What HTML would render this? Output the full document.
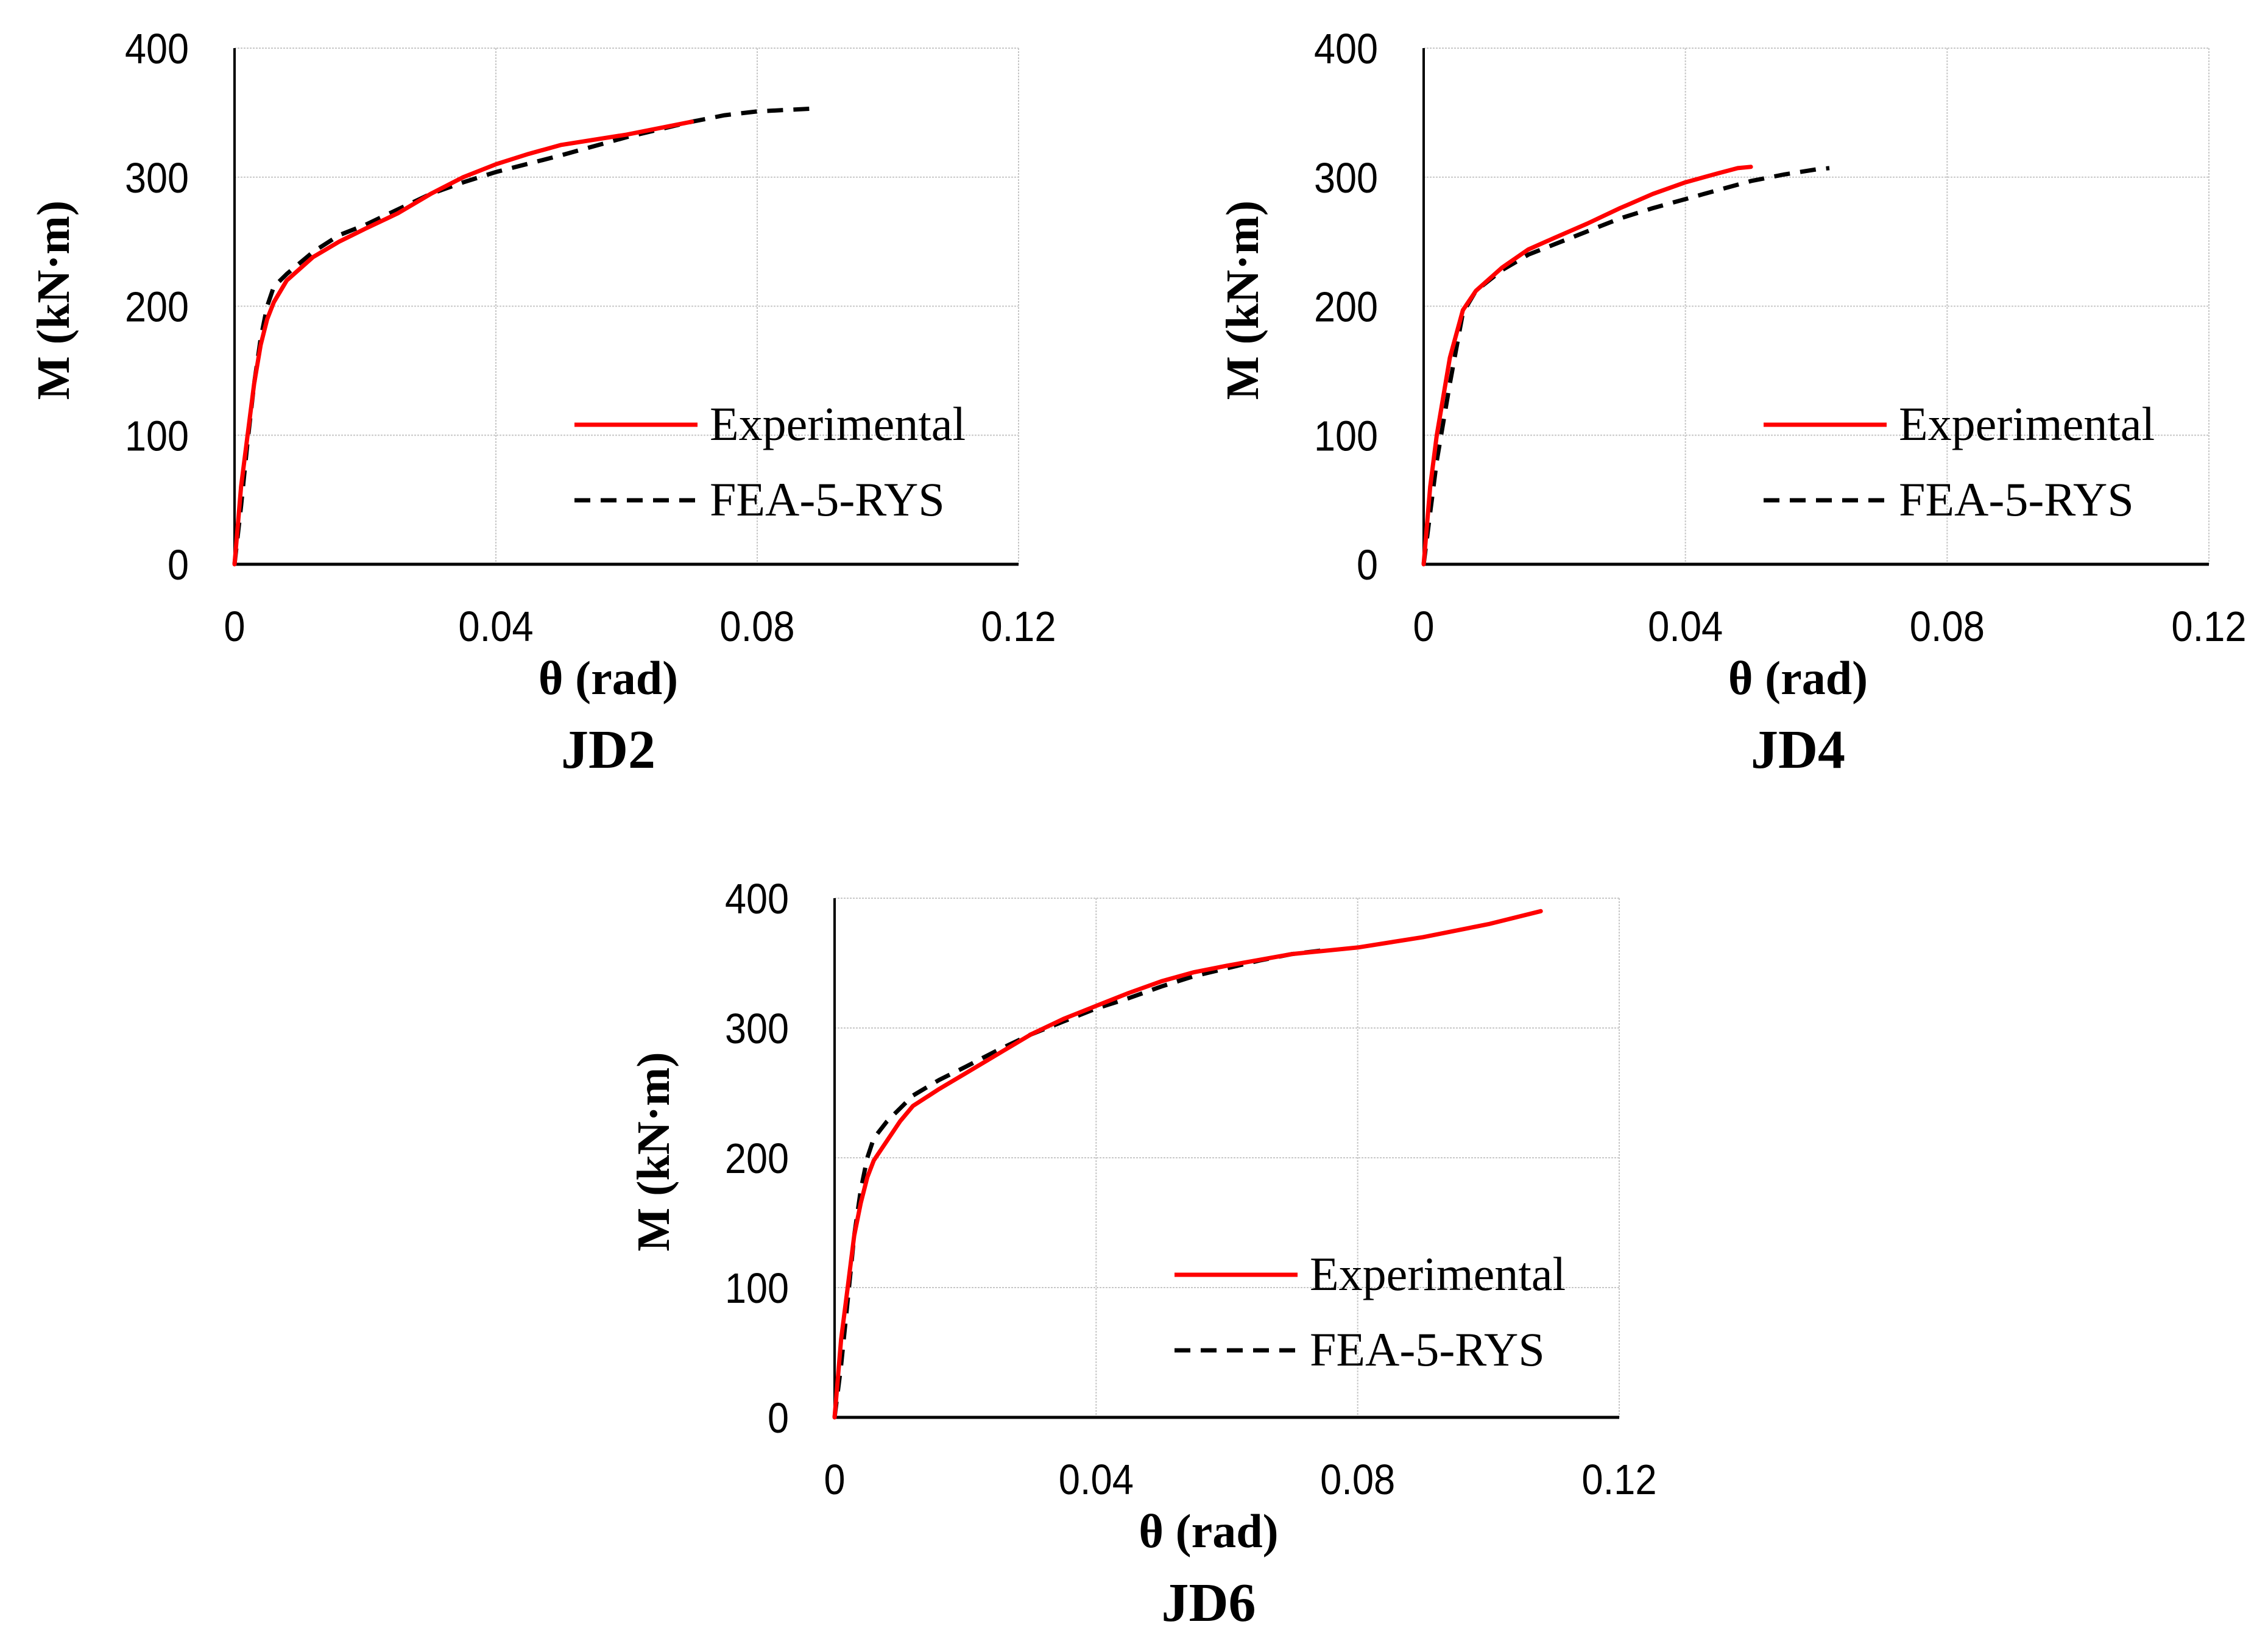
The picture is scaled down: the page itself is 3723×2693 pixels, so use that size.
<!DOCTYPE html>
<html><head><meta charset="utf-8">
<style>
html,body{margin:0;padding:0;background:#fff;}
svg{display:block;}
.tick{font-family:"Liberation Sans Narrow","Liberation Sans",sans-serif;font-size:70px;fill:#000;}
.ttl{font-family:"Liberation Serif",serif;font-weight:bold;fill:#000;}
.leg{font-family:"Liberation Serif",serif;font-size:78px;fill:#000;}
</style></head>
<body>
<svg id="fig" width="3723" height="2693" viewBox="0 0 3723 2693" xmlns="http://www.w3.org/2000/svg"></svg>
<script>
const xTicks=[0,0.04,0.08,0.12];
const xTickLabels=["0","0.04","0.08","0.12"];
const yTicks=[0,100,200,300,400];
const yTickLabels=["0","100","200","300","400"];
const panelNames=["JD2","JD4","JD6"];
const jd2ExpTheta=[0,0.001,0.002,0.003,0.004,0.005,0.006,0.008,0.012,0.016,0.02,0.025,0.03,0.035,0.04,0.045,0.05,0.06,0.07];
const jd2ExpM=[0,60,100,140,170,190,203,220,238,250,260,272,287,300,310,318,325,333,343];
const jd2FeaTheta=[0,0.001,0.002,0.003,0.004,0.005,0.006,0.008,0.012,0.016,0.02,0.025,0.03,0.035,0.04,0.05,0.06,0.07,0.075,0.08,0.088];
const jd2FeaM=[0,45,95,140,175,200,215,225,242,255,263,275,287,296,304,317,331,343,348,351,353];
const jd4ExpTheta=[0,0.001,0.002,0.004,0.006,0.008,0.012,0.016,0.02,0.025,0.03,0.035,0.04,0.045,0.048,0.05];
const jd4ExpM=[0,60,100,160,197,212,230,244,253,264,276,287,296,303,307,308];
const jd4FeaTheta=[0,0.001,0.002,0.004,0.006,0.008,0.012,0.016,0.02,0.025,0.03,0.035,0.04,0.045,0.05,0.055,0.06,0.062];
const jd4FeaM=[0,40,80,140,195,212,228,240,248,258,268,276,283,290,297,302,306,307];
const jd6ExpTheta=[0,0.001,0.002,0.003,0.004,0.005,0.006,0.008,0.01,0.012,0.016,0.02,0.025,0.03,0.035,0.04,0.045,0.05,0.055,0.06,0.07,0.08,0.09,0.1,0.108];
const jd6ExpM=[0,60,100,140,165,185,198,213,228,240,253,265,280,295,307,317,327,336,343,348,357,362,370,380,390];
const jd6FeaTheta=[0,0.001,0.002,0.003,0.004,0.005,0.006,0.008,0.012,0.016,0.02,0.025,0.03,0.035,0.04,0.045,0.05,0.055,0.06,0.065,0.07,0.075];
const jd6FeaM=[0,40,90,140,175,200,215,228,248,260,270,283,295,305,315,323,332,340,346,352,357,360];

const NS="http://www.w3.org/2000/svg";
const svg=document.getElementById('fig');
function mk(tag,attrs,parent){const e=document.createElementNS(NS,tag);for(const k in attrs)e.setAttribute(k,attrs[k]);(parent||svg).appendChild(e);return e;}
function narrowLen(s){let w=0;for(const c of s)w+=(c==='.'?0.26:0.5)*70;return w;}

const panels=[
 {name:panelNames[0],L:385,R:1672,T:79,B:926,exp:[jd2ExpTheta,jd2ExpM],fea:[jd2FeaTheta,jd2FeaM]},
 {name:panelNames[1],L:2337,R:3626,T:79,B:926,exp:[jd4ExpTheta,jd4ExpM],fea:[jd4FeaTheta,jd4FeaM]},
 {name:panelNames[2],L:1370,R:2658,T:1474,B:2326,exp:[jd6ExpTheta,jd6ExpM],fea:[jd6FeaTheta,jd6FeaM]}
];

panels.forEach(p=>{
  const g=mk('g',{});
  
  
  const sx=v=>p.L+(v-0)/(0.12)*(p.R-p.L);
  const sy=v=>p.B-(v/400)*(p.B-p.T);
  yTicks.forEach((t,i)=>{
    if(t>0){const gl=mk('line',{x1:p.L,x2:p.R,y1:sy(t),y2:sy(t),stroke:'#c8c8c8','stroke-width':2,'stroke-dasharray':'3 2'},g);
    
    }
    const tx=mk('text',{x:p.L-75,y:sy(t)+25,'text-anchor':'end',class:'tick',textLength:narrowLen(yTickLabels[i]),lengthAdjust:'spacingAndGlyphs'},g);tx.textContent=yTickLabels[i];
    
    
  });
  xTicks.forEach((t,i)=>{
    if(t>0){const gl=mk('line',{x1:sx(t),x2:sx(t),y1:p.T,y2:p.B,stroke:'#c8c8c8','stroke-width':2,'stroke-dasharray':'3 2'},g);
    
    }
    const tx=mk('text',{x:sx(t),y:p.B+126,'text-anchor':'middle',class:'tick',textLength:narrowLen(xTickLabels[i]),lengthAdjust:'spacingAndGlyphs'},g);tx.textContent=xTickLabels[i];
    
    
  });
  const ay=mk('line',{x1:p.L,x2:p.L,y1:p.T,y2:p.B+2,stroke:'#000','stroke-width':4},g);
  
  
  const ax=mk('line',{x1:p.L-2,x2:p.R,y1:p.B,y2:p.B,stroke:'#000','stroke-width':5},g);
  
  
  const pts=(a)=>a[0].map((v,i)=>sx(v).toFixed(1)+','+sy(a[1][i]).toFixed(1)).join(' ');
  const fe=mk('polyline',{points:pts(p.fea),fill:'none',stroke:'#000','stroke-width':7,'stroke-dasharray':'26 17','stroke-linejoin':'round'},g);
  
  
  const ex=mk('polyline',{points:pts(p.exp),fill:'none',stroke:'#ff0000','stroke-width':7,'stroke-linejoin':'round','stroke-linecap':'round'},g);
  
  
  const lx=p.L+558, ly1=p.T+618, ly2=p.T+742;
  const l1=mk('line',{x1:lx,x2:lx+202,y1:ly1,y2:ly1,stroke:'#ff0000','stroke-width':7},g);
  
  
  const t1=mk('text',{x:lx+222,y:ly1+25,class:'leg'},g);t1.textContent='Experimental';
  
  
  const l2=mk('line',{x1:lx,x2:lx+202,y1:ly2,y2:ly2,stroke:'#000','stroke-width':7,'stroke-dasharray':'26 17'},g);
  
  
  const t2=mk('text',{x:lx+222,y:ly2+25,class:'leg'},g);t2.textContent='FEA-5-RYS';
  
  
  const cx=(p.L+p.R)/2;
  const xt=mk('text',{x:cx-30,y:p.B+213,'text-anchor':'middle',class:'ttl','font-size':78},g);xt.textContent='θ (rad)';
  
  
  const yc=(p.T+p.B)/2-10;
  const yt=mk('text',{x:0,y:0,'text-anchor':'middle',class:'ttl','font-size':76,transform:'translate('+(p.L-272)+','+yc+') rotate(-90)'},g);yt.textContent='M (kN·m)';
  
  
  const pt=mk('text',{x:cx-30,y:p.B+334,'text-anchor':'middle',class:'ttl','font-size':90},g);pt.textContent=p.name;
  
  
});
</script>
</body></html>
